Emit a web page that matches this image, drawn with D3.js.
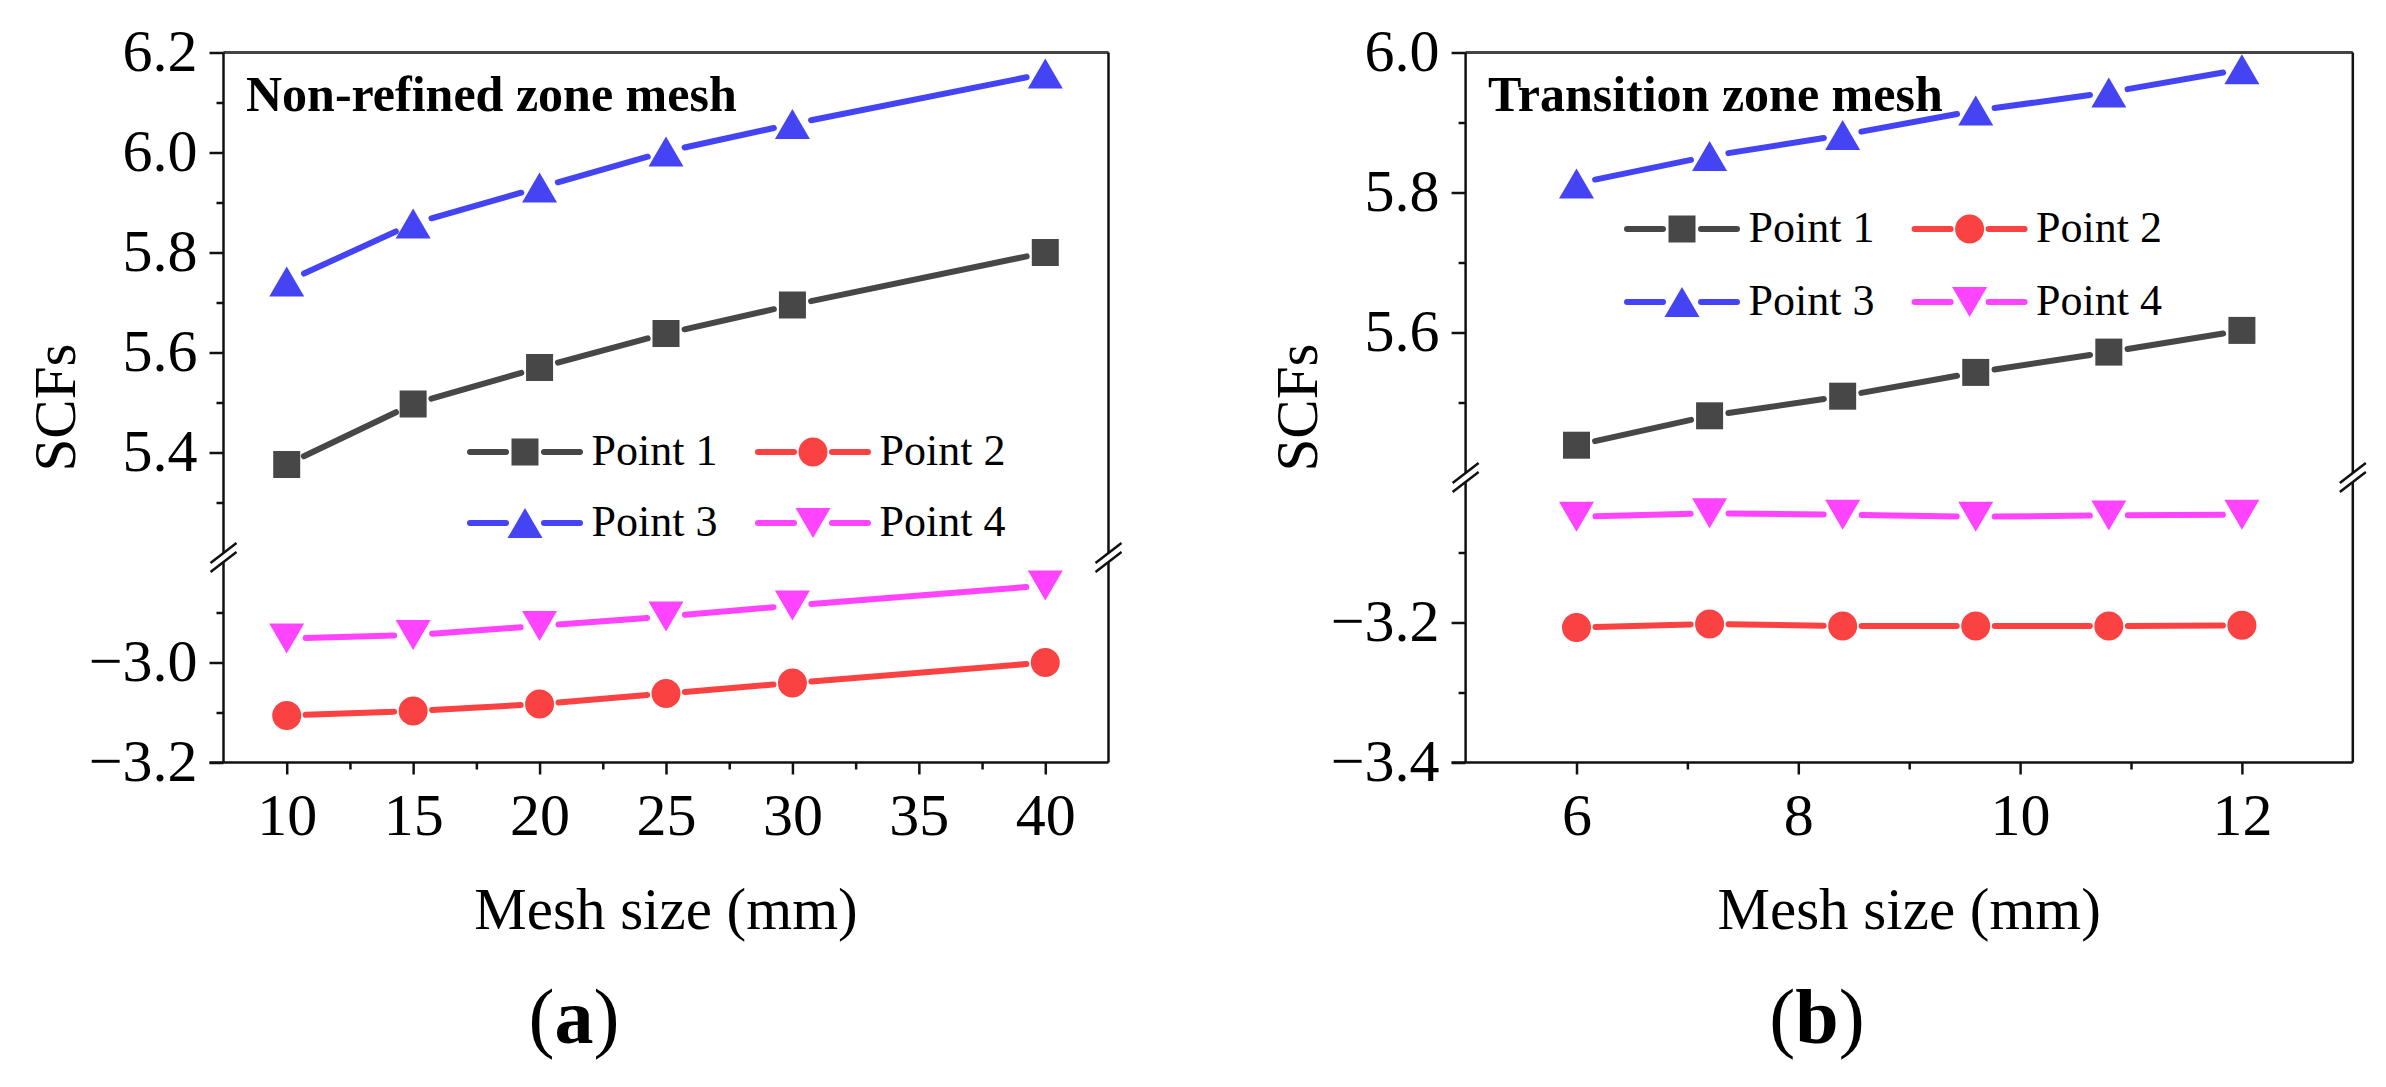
<!DOCTYPE html>
<html><head><meta charset="utf-8">
<script src="https://cdn.jsdelivr.net/npm/d3@7"></script>
<style>html,body{margin:0;padding:0;background:#fff;} svg{display:block;}</style>
</head><body>
<svg id="c" width="2386" height="1087"></svg>
<script>
// ---------------- data ----------------
const seriesNames = ["Point 1","Point 2","Point 3","Point 4"];
const seriesColors = ["#474747","#fa4242","#4444f5","#ff44ff"];
const seriesSymbols = ["square","circle","triangleUp","triangleDown"];

const meshA = [10,15,20,25,30,40];
const point1A = [5.376,5.497,5.570,5.638,5.695,5.800];
const point2A = [-3.106,-3.097,-3.083,-3.062,-3.041,-3.000];
const point3A = [5.742,5.858,5.930,6.002,6.057,6.158];
const point4A = [-2.952,-2.945,-2.927,-2.908,-2.886,-2.846];

const meshB = [6,7.2,8.4,9.6,10.8,12];
const point1B = [5.439,5.481,5.509,5.543,5.572,5.603];
const point2B = [-3.207,-3.202,-3.205,-3.205,-3.205,-3.204];
const point3B = [5.813,5.852,5.882,5.917,5.943,5.976];
const point4B = [-3.049,-3.044,-3.046,-3.049,-3.047,-3.046];

const xTicksA = [10,15,20,25,30,35,40];
const xMinorA = [12.5,17.5,22.5,27.5,32.5,37.5];
const yUpperTicksA = [5.4,5.6,5.8,6.0,6.2];
const yUpperMinorA = [5.3,5.5,5.7,5.9,6.1];
const yLowerTicksA = [-3.0,-3.2];
const yLowerMinorA = [-2.9,-3.1];

const xTicksB = [6,8,10,12];
const xMinorB = [7,9,11];
const yUpperTicksB = [5.6,5.8,6.0];
const yUpperMinorB = [5.5,5.7,5.9];
const yLowerTicksB = [-3.2,-3.4];
const yLowerMinorB = [-3.1,-3.3];

const titleA = "Non-refined zone mesh";
const titleB = "Transition zone mesh";
const xTitle = "Mesh size (mm)";
const yTitle = "SCFs";

// ---------------- layout ----------------
const FONT = "Liberation Serif, Times New Roman, serif";
const svg = d3.select("#c");

const panels = [
  {
    x: meshA, ys: [point1A, point2A, point3A, point4A],
    xDomain: [7.5, 42.5], xRange: [223.5, 1108.5],
    upDomain: [5.2, 6.2], upRange: [552.5, 52.5],
    loDomain: [-3.2, -2.8], loRange: [762.5, 562.5],
    xTicks: xTicksA, xMinor: xMinorA,
    upTicks: yUpperTicksA, upMinor: yUpperMinorA,
    loTicks: yLowerTicksA, loMinor: yLowerMinorA,
    title: titleA, legendX: [470, 758], legendY: [452, 523],
    label: "a", labelX: 574
  },
  {
    x: meshB, ys: [point1B, point2B, point3B, point4B],
    xDomain: [5, 13], xRange: [1465.6, 2352.8],
    upDomain: [5.4, 6.0], upRange: [472.5, 52.5],
    loDomain: [-3.4, -3.0], loRange: [762.5, 482.5],
    xTicks: xTicksB, xMinor: xMinorB,
    upTicks: yUpperTicksB, upMinor: yUpperMinorB,
    loTicks: yLowerTicksB, loMinor: yLowerMinorB,
    title: titleB, legendX: [1627, 1914.6], legendY: [229, 302],
    label: "b", labelX: 1817
  }
];

function symbolPath(type) {
  if (type === "square") return d3.symbol(d3.symbolSquare, 27*27)();
  if (type === "circle") return d3.symbol(d3.symbolCircle, Math.PI*14.5*14.5)();
  const w = 35, h = 30;
  if (type === "triangleUp") return `M0,${-h/2}L${w/2},${h/2}L${-w/2},${h/2}Z`;
  return `M0,${h/2}L${w/2},${-h/2}L${-w/2},${-h/2}Z`;
}

const GAP = 19;
const LW = 6;
function drawSegments(g, pts, color) {
  for (let i = 0; i < pts.length - 1; i++) {
    const [x1, y1] = pts[i], [x2, y2] = pts[i+1];
    const dx = x2 - x1, dy = y2 - y1, L = Math.hypot(dx, dy);
    if (L <= 2*GAP) continue;
    const ux = dx / L, uy = dy / L;
    g.append("line")
      .attr("x1", x1 + ux*GAP).attr("y1", y1 + uy*GAP)
      .attr("x2", x2 - ux*GAP).attr("y2", y2 - uy*GAP)
      .attr("stroke", color).attr("stroke-width", LW).attr("stroke-linecap", "round");
  }
}

function breakMark(g, x, y) {
  const bx = 13, by = 10, off = 4.5;
  const bm = g.append("g").attr("transform", `translate(${x},${y})`);
  bm.append("polygon")
    .attr("points", `${-bx},${by-off} ${bx},${-by-off} ${bx},${-by+off} ${-bx},${by+off}`)
    .attr("fill", "#fff");
  [-off, off].forEach(o => {
    bm.append("line")
      .attr("x1", -bx).attr("y1", by + o).attr("x2", bx).attr("y2", -by + o)
      .attr("stroke", "#111").attr("stroke-width", 2.5);
  });
}

panels.forEach(p => {
  const g = svg.append("g");
  const xs = d3.scaleLinear().domain(p.xDomain).range(p.xRange);
  const yUp = d3.scaleLinear().domain(p.upDomain).range(p.upRange);
  const yLo = d3.scaleLinear().domain(p.loDomain).range(p.loRange);
  const yv = v => (v >= p.upDomain[0] ? yUp(v) : yLo(v));
  const x0 = p.xRange[0], x1 = p.xRange[1];
  const top = p.upRange[1], bottom = p.loRange[0];
  const gapMid = (p.upRange[0] + p.loRange[1]) / 2;
  const fmt = d3.format(".1f");

  // axis lines / frame
  g.append("line").attr("x1", x0).attr("x2", x1).attr("y1", top).attr("y2", top)
    .attr("stroke", "#444").attr("stroke-width", 3);
  [x0, x1].forEach(xx => {
    g.append("line").attr("x1", xx).attr("x2", xx).attr("y1", top).attr("y2", bottom)
      .attr("stroke", "#111").attr("stroke-width", 2.5);
  });

  // y axes via d3 axes
  function yAxis(scale, ticks, minor) {
    const a = g.append("g").attr("transform", `translate(${x0},0)`)
      .call(d3.axisLeft(scale).tickValues(ticks).tickSize(14).tickPadding(12).tickFormat(fmt));
    a.attr("font-family", FONT).attr("font-size", 60);
    a.select(".domain").remove();
    a.selectAll("line").attr("stroke", "#111").attr("stroke-width", 2.5);
    a.selectAll("text").attr("fill", "#000").attr("dy", "0.30em");
    const m = g.append("g").attr("transform", `translate(${x0},0)`)
      .call(d3.axisLeft(scale).tickValues(minor).tickSize(7).tickFormat(""));
    m.select(".domain").remove();
    m.selectAll("line").attr("stroke", "#111").attr("stroke-width", 2.5);
  }
  yAxis(yUp, p.upTicks, p.upMinor);
  yAxis(yLo, p.loTicks, p.loMinor);

  // x axis
  const xa = g.append("g").attr("transform", `translate(0,${bottom})`)
    .call(d3.axisBottom(xs).tickValues(p.xTicks).tickSize(12).tickPadding(18).tickFormat(d3.format("d")));
  xa.attr("font-family", FONT).attr("font-size", 60);
  xa.select(".domain").attr("stroke", "#111").attr("stroke-width", 2.5)
    .attr("d", `M${x0 - 14},0H${x1}`);
  xa.selectAll("line").attr("stroke", "#111").attr("stroke-width", 2.5);
  xa.selectAll("text").attr("fill", "#000");
  const xm = g.append("g").attr("transform", `translate(0,${bottom})`)
    .call(d3.axisBottom(xs).tickValues(p.xMinor).tickSize(7).tickFormat(""));
  xm.select(".domain").remove();
  xm.selectAll("line").attr("stroke", "#111").attr("stroke-width", 2.5);

  // break marks
  breakMark(g, x0, gapMid);
  breakMark(g, x1, gapMid);

  // series
  p.ys.forEach((vals, si) => {
    const pts = p.x.map((xv, i) => [xs(xv), yv(vals[i])]);
    drawSegments(g, pts, seriesColors[si]);
    g.selectAll(null).data(pts).enter().append("path")
      .attr("transform", d => `translate(${d[0]},${d[1]})`)
      .attr("d", symbolPath(seriesSymbols[si]))
      .attr("fill", seriesColors[si]);
  });

  // panel title
  g.append("text").attr("x", x0 + 22.5).attr("y", 111)
    .attr("font-family", FONT).attr("font-weight", "bold").attr("font-size", 50)
    .text(p.title);

  // legend
  seriesNames.forEach((name, si) => {
    const lx = p.legendX[si % 2], ly = p.legendY[Math.floor(si / 2)];
    const lg = g.append("g");
    [[lx, lx + 55 - GAP], [lx + 55 + GAP, lx + 110]].forEach(([a, b]) => {
      lg.append("line").attr("x1", a).attr("x2", b).attr("y1", ly).attr("y2", ly)
        .attr("stroke", seriesColors[si]).attr("stroke-width", LW).attr("stroke-linecap", "round");
    });
    lg.append("path").attr("transform", `translate(${lx + 55},${ly})`)
      .attr("d", symbolPath(seriesSymbols[si])).attr("fill", seriesColors[si]);
    lg.append("text").attr("x", lx + 121.5).attr("y", ly + 13)
      .attr("font-family", FONT).attr("font-size", 44).attr("fill", "#000").text(name);
  });

  // axis titles
  g.append("text").attr("x", (x0 + x1) / 2).attr("y", 929).attr("text-anchor", "middle")
    .attr("font-family", FONT).attr("font-size", 59).attr("fill", "#000").text(xTitle);
  g.append("text").attr("transform", `translate(${x0 - 149},${(top + bottom) / 2}) rotate(-90)`)
    .attr("text-anchor", "middle")
    .attr("font-family", FONT).attr("font-size", 59).attr("fill", "#000").text(yTitle);

  // panel label
  const t = g.append("text").attr("x", p.labelX).attr("y", 1043).attr("text-anchor", "middle")
    .attr("font-family", FONT).attr("font-size", 78).attr("fill", "#000");
  t.append("tspan").text("(");
  t.append("tspan").attr("font-weight", "bold").text(p.label);
  t.append("tspan").text(")");
});
</script>
</body></html>
